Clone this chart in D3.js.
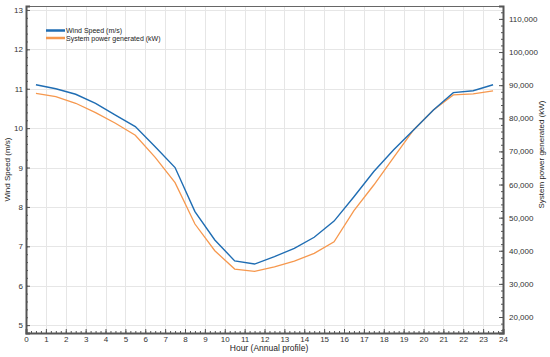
<!DOCTYPE html>
<html>
<head>
<meta charset="utf-8">
<script src="https://cdn.jsdelivr.net/npm/d3@7"></script>
<style>
  body { margin: 0; background: #fff; }
  svg text { font-family: "Liberation Sans", Arial, sans-serif; }
</style>
</head>
<body>
<div id="chart"></div>
<script>
// hours (mid-hour points of the annual daily profile)
const hours = [0.5, 1.5, 2.5, 3.5, 4.5, 5.5, 6.5, 7.5, 8.5, 9.5, 10.5, 11.5,
               12.5, 13.5, 14.5, 15.5, 16.5, 17.5, 18.5, 19.5, 20.5, 21.5, 22.5, 23.5];
const windSpeed = [11.10, 11.00, 10.86, 10.63, 10.33, 10.04, 9.53, 9.00, 7.88, 7.16, 6.63, 6.55,
                   6.74, 6.95, 7.23, 7.64, 8.26, 8.90, 9.45, 9.95, 10.46, 10.90, 10.95, 11.10];
const powerKW = [87550, 86530, 84530, 81700, 78490, 74860, 68220, 60550, 48070, 40000, 34470, 33780,
                 35170, 36900, 39210, 42720, 52100, 59850, 68220, 76470, 82510, 87040, 87340, 88250];
const xTicks = d3.range(0, 25);
const windTicks = [5, 6, 7, 8, 9, 10, 11, 12, 13];
const powerTicks = [20000, 30000, 40000, 50000, 60000, 70000, 80000, 90000, 100000, 110000];
const seriesNames = ["Wind Speed (m/s)", "System power generated (kW)"];
const seriesColors = ["#1f6db3", "#f6984e"];

const width = 550, height = 357;
const mLeft = 26, mRight = 503, mTop = 6, mBottom = 333;

const svg = d3.select('#chart').append('svg')
    .attr('width', width)
    .attr('height', height);

const x = d3.scaleLinear().domain([0, 24]).range([mLeft, mRight]);
const yL = d3.scaleLinear().domain([4.8, 13.1]).range([mBottom, mTop]);
const yR = d3.scaleLinear().domain([15170, 113900]).range([mBottom, mTop]);

// grid
const grid = svg.append('g').attr('stroke', '#e6e6e6').attr('stroke-width', 1);
grid.selectAll('line.v').data(xTicks.slice(1, -1)).join('line')
    .attr('x1', d => Math.round(x(d)) + 0.5).attr('x2', d => Math.round(x(d)) + 0.5)
    .attr('y1', mTop).attr('y2', mBottom);
grid.selectAll('line.h').data(windTicks).join('line')
    .attr('y1', d => Math.round(yL(d)) + 0.5).attr('y2', d => Math.round(yL(d)) + 0.5)
    .attr('x1', mLeft).attr('x2', mRight);

// frame top
svg.append('line').attr('x1', mLeft).attr('x2', mRight).attr('y1', mTop + 0.5).attr('y2', mTop + 0.5)
    .attr('stroke', '#666').attr('stroke-width', 1);

const styleAxis = (g, size) => {
    g.select('.domain').attr('stroke', '#555').attr('stroke-width', 2);
    g.selectAll('.tick line').attr('stroke', '#555');
    g.selectAll('.tick text').attr('fill', '#333').attr('font-size', size);
};

// minor ticks
const minor = (g, scale, vals, orient) => {
    const ax = orient === 'bottom' ? d3.axisBottom(scale) : orient === 'left' ? d3.axisLeft(scale) : d3.axisRight(scale);
    g.call(ax.tickValues(vals).tickSize(-2).tickFormat(''));
    g.select('.domain').remove();
    g.selectAll('.tick line').attr('stroke', '#555');
};

minor(svg.append('g').attr('transform', `translate(0,${mBottom})`), x, d3.range(0, 24.01, 0.25), 'bottom');
minor(svg.append('g').attr('transform', `translate(${mLeft},0)`), yL, d3.range(5, 13.01, 0.2), 'left');
minor(svg.append('g').attr('transform', `translate(${mRight},0)`), yR, d3.range(16000, 113001, 2000), 'right');

svg.append('g')
    .attr('transform', `translate(0,${mBottom})`)
    .call(d3.axisBottom(x).tickValues(xTicks).tickSize(-4).tickFormat(d3.format('d')))
    .call(g => styleAxis(g, 8))
    .call(g => g.selectAll('.tick text').attr('y', 3));

svg.append('g')
    .attr('transform', `translate(${mLeft},0)`)
    .call(d3.axisLeft(yL).tickValues(windTicks).tickSize(-4).tickFormat(d3.format('d')))
    .call(g => styleAxis(g, 8))
    .call(g => g.selectAll('.tick text').attr('x', -3));

svg.append('g')
    .attr('transform', `translate(${mRight},0)`)
    .call(d3.axisRight(yR).tickValues(powerTicks).tickSize(-4).tickFormat(d3.format(',')))
    .call(g => styleAxis(g, 8))
    .call(g => g.selectAll('.tick text').attr('x', 6));

// lines
const lineL = d3.line().x((d, i) => x(hours[i])).y(d => yL(d));
const lineR = d3.line().x((d, i) => x(hours[i])).y(d => yR(d));

svg.append('path').datum(powerKW)
    .attr('fill', 'none').attr('stroke', seriesColors[1]).attr('stroke-width', 1.3)
    .attr('d', lineR);
svg.append('path').datum(windSpeed)
    .attr('fill', 'none').attr('stroke', seriesColors[0]).attr('stroke-width', 1.4)
    .attr('d', lineL);

// legend
const legend = svg.append('g');
seriesNames.forEach((name, i) => {
    const ly = 30.5 + i * 7.5;
    legend.append('line').attr('x1', 46).attr('x2', 65).attr('y1', ly).attr('y2', ly)
        .attr('stroke', seriesColors[i]).attr('stroke-width', 2.5);
    legend.append('text').attr('x', 66).attr('y', ly + 2.5)
        .attr('font-size', 7).attr('fill', '#222').text(name);
});

// axis titles
svg.append('text')
    .attr('transform', `translate(10,${(mTop + mBottom) / 2}) rotate(-90)`)
    .attr('text-anchor', 'middle').attr('font-size', 8).attr('fill', '#222')
    .text(seriesNames[0]);
svg.append('text')
    .attr('transform', `translate(544,${(mTop + mBottom) / 2 - 15}) rotate(-90)`)
    .attr('text-anchor', 'middle').attr('font-size', 8).attr('fill', '#222')
    .text(seriesNames[1]);
svg.append('text')
    .attr('x', 269).attr('y', 351)
    .attr('text-anchor', 'middle').attr('font-size', 8.5).attr('fill', '#222')
    .text('Hour (Annual profile)');
</script>
</body>
</html>
